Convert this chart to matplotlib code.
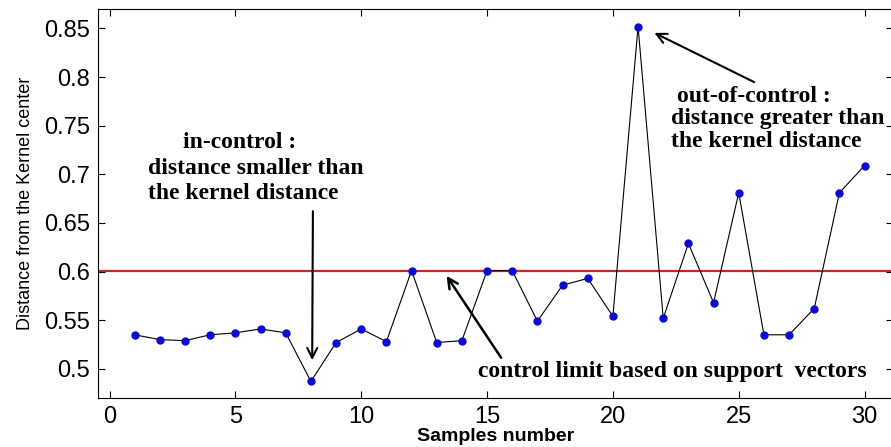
import matplotlib
matplotlib.use("Agg")
import matplotlib.pyplot as plt

# distance of each sample from the kernel centre
samples = list(range(1, 31))
distance = [0.535, 0.530, 0.529, 0.535, 0.537, 0.541, 0.537, 0.487, 0.527, 0.541,
            0.528, 0.601, 0.527, 0.529, 0.601, 0.601, 0.549, 0.586, 0.593, 0.554,
            0.852, 0.552, 0.629, 0.568, 0.681, 0.535, 0.535, 0.562, 0.681, 0.709]
control_limit = 0.601

xticks = [0, 5, 10, 15, 20, 25, 30]
yticks = [0.5, 0.55, 0.6, 0.65, 0.7, 0.75, 0.8, 0.85]
ytick_labels = ["0.5", "0.55", "0.6", "0.65", "0.7", "0.75", "0.8", "0.85"]

fig = plt.figure(figsize=(8.91, 4.47), dpi=100)
ax = fig.add_axes([98 / 891, 49 / 447, 795 / 891, 389 / 447])

ax.axhline(control_limit, color="#cf2424", lw=1.6, zorder=2)
ax.plot(samples, distance, color="black", lw=0.8, zorder=3)
ax.plot(samples, distance, "o", ms=5, mfc="#0a0ad0", mec="#0a0ad0", zorder=4)

ax.set_xlim(-0.46, 31.13)
ax.set_ylim(0.47, 0.87)
ax.set_xticks(xticks)
ax.set_yticks(yticks)
ax.set_yticklabels(ytick_labels)
ax.tick_params(direction="in", length=5, width=0.8, labelsize=17,
               top=True, right=True, pad=6)
for lab in ax.get_xticklabels() + ax.get_yticklabels():
    lab.set_fontfamily("Liberation Sans")

ax.set_xlabel("Samples number", fontsize=14, fontweight="bold",
              family="Liberation Sans", labelpad=0)
ax.set_ylabel("Distance from the Kernel center", fontsize=13,
              family="Liberation Sans", labelpad=7)

serif = dict(family="Liberation Serif", fontweight="bold", fontsize=17, va="baseline")

# in-control note
ax.text(2.93, 0.727, "in-control :", **serif)
ax.text(1.53, 0.7003, "distance smaller than", **serif)
ax.text(1.53, 0.6746, "the kernel distance", **serif)
ax.annotate("", xy=(8.05, 0.506), xytext=(8.08, 0.665),
            arrowprops=dict(arrowstyle="->", color="black", lw=1.5,
                            mutation_scale=18))

# out-of-control note
ax.text(22.56, 0.7747, "out-of-control :", **serif)
ax.text(22.31, 0.7517, "distance greater than", **serif)
ax.text(22.31, 0.7284, "the kernel distance", **serif)
ax.annotate("", xy=(21.55, 0.8467), xytext=(25.71, 0.7936),
            arrowprops=dict(arrowstyle="->", color="black", lw=1.5,
                            mutation_scale=18))

# control limit note
ax.text(14.65, 0.4918, "control limit based on support  vectors", **serif)
ax.annotate("", xy=(13.33, 0.598), xytext=(15.62, 0.509),
            arrowprops=dict(arrowstyle="->", color="black", lw=1.8,
                            mutation_scale=18))

fig.savefig("out.png", dpi=100)
